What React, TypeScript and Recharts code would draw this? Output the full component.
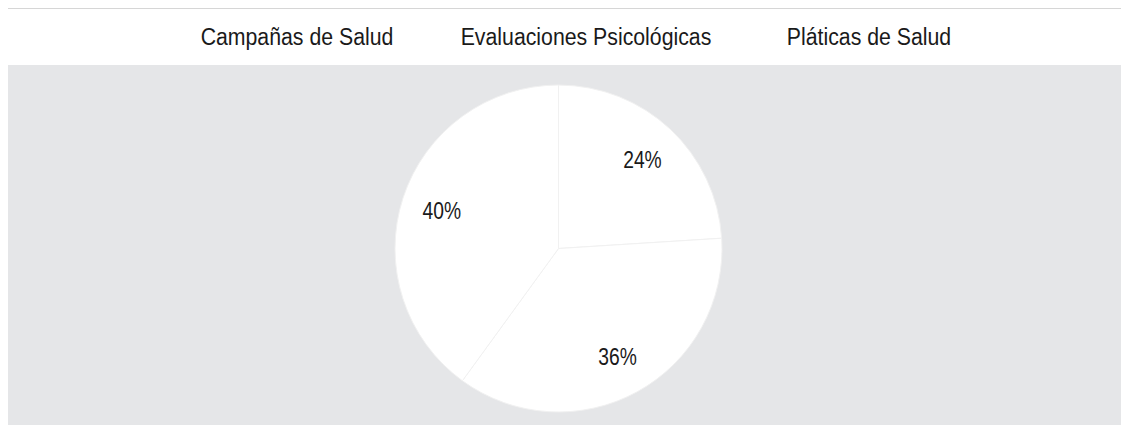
import { PieChart, Pie, Cell, Legend, Customized } from 'recharts';

const categories = ['Campañas de Salud', 'Evaluaciones Psicológicas', 'Pláticas de Salud'];
const shares = [24, 36, 40];

const data = categories.map((name, i) => ({ name, value: shares[i] }));

const FONT = '"Liberation Sans", Arial, sans-serif';
const W = 1122;
const H = 417;
// legend text centres (the reference spaces them unevenly)
const legendX = [289.5, 578.5, 861.5];

const PlotBg = () => <rect x={0} y={56} width={W} height={360} fill="#e5e6e8" />;

const RADIAN = Math.PI / 180;
const renderLabel = ({ cx, cy, midAngle, outerRadius, percent }: any) => {
  const r = outerRadius * 0.75;
  const x = cx + r * Math.cos(-midAngle * RADIAN);
  const y = cy + r * Math.sin(-midAngle * RADIAN) + 1;
  return (
    <text
      transform={`translate(${x},${y}) scale(0.82,1)`}
      fill="#1a1a1a"
      textAnchor="middle"
      dominantBaseline="central"
      fontFamily={FONT}
      fontSize={23.5}
    >
      {`${Math.round(percent * 100)}%`}
    </text>
  );
};

const LegendRow = () => (
  <div style={{ position: 'relative', height: 0, fontFamily: FONT, fontSize: 23.5, color: '#1a1a1a' }}>
    {categories.map((c, i) => (
      <span
        key={c}
        style={{
          position: 'absolute',
          left: legendX[i],
          top: 0,
          whiteSpace: 'nowrap',
          transform: 'translateX(-50%) scaleX(0.905)',
        }}
      >
        {c}
      </span>
    ))}
  </div>
);

export default function App() {
  return (
    <div
      style={{
        position: 'relative',
        left: -1,
        top: -1,
        width: W,
        borderTop: '2px solid #d6d6d6',
      }}
    >
      <PieChart width={W} height={H} margin={{ top: 0, right: 0, bottom: 0, left: 0 }}>
        <Customized component={PlotBg} />
        <Legend
          verticalAlign="top"
          content={<LegendRow />}
          wrapperStyle={{ top: 15, left: 0, width: W }}
        />
        <Pie
          data={data}
          dataKey="value"
          nameKey="name"
          cx={551.5}
          cy={239.5}
          outerRadius={163.5}
          startAngle={90}
          endAngle={-270}
          stroke="#f1f1f1"
          strokeWidth={1}
          label={renderLabel}
          labelLine={false}
          isAnimationActive={false}
        >
          {data.map((d) => (
            <Cell key={d.name} fill="#ffffff" />
          ))}
        </Pie>
      </PieChart>
    </div>
  );
}
